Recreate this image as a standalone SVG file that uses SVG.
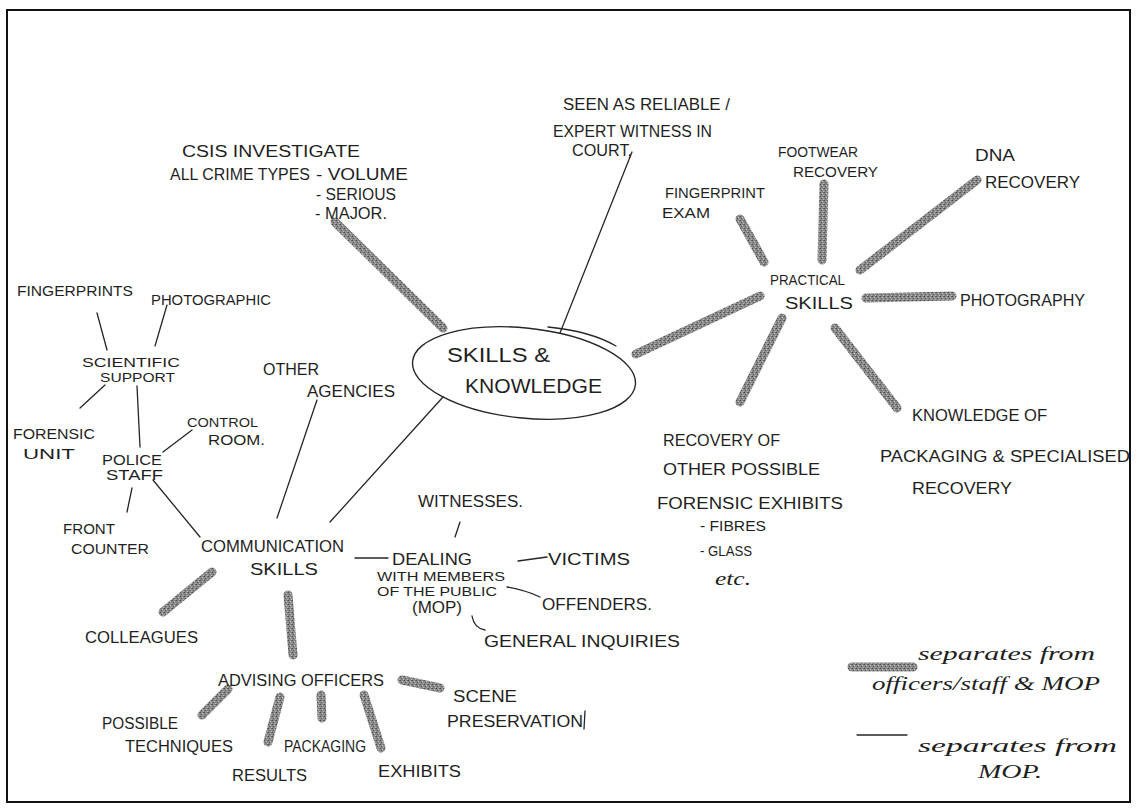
<svg xmlns="http://www.w3.org/2000/svg" width="1137" height="808" viewBox="0 0 1137 808">
<style>
.t{font-family:"Liberation Sans",Arial,sans-serif;font-size:16px;fill:#1f1f1f}
.s{font-size:14px}
.xs{font-size:13px}
.big{font-size:20px}
.cur{font-family:"Liberation Serif","Times New Roman",serif;font-style:italic;font-size:18px;fill:#1f1f1f}
.thin{stroke:#262626;stroke-width:1.3;fill:none;stroke-linecap:round}
.thick{stroke:url(#grain);stroke-width:9;stroke-linecap:round;fill:none}
</style>
<defs>
<pattern id="grain" patternUnits="userSpaceOnUse" width="4" height="4">
<rect width="4" height="4" fill="#8a8a8a"/>
<rect x="0" y="0" width="1" height="1" fill="#4a4a4a"/>
<rect x="2" y="1" width="1" height="1" fill="#c4c4c4"/>
<rect x="1" y="2" width="1" height="1" fill="#5a5a5a"/>
<rect x="3" y="3" width="1" height="1" fill="#b8b8b8"/>
<rect x="3" y="0" width="1" height="1" fill="#6a6a6a"/>
</pattern>
</defs>
<rect x="0" y="0" width="1137" height="808" fill="#ffffff"/>
<rect x="7" y="10" width="1123" height="792" fill="none" stroke="#111" stroke-width="2"/>

<g id="connectors">
<line class="thick" x1="335" y1="222" x2="443" y2="328"/>
<line class="thick" x1="636" y1="354" x2="760" y2="296"/>
<line class="thick" x1="740" y1="219" x2="764" y2="262"/>
<line class="thick" x1="824" y1="184" x2="822" y2="260"/>
<line class="thick" x1="860" y1="270" x2="977" y2="180"/>
<line class="thick" x1="866" y1="298" x2="952" y2="296"/>
<line class="thick" x1="782" y1="318" x2="740" y2="402"/>
<line class="thick" x1="835" y1="328" x2="897" y2="408"/>
<line class="thick" x1="212" y1="572" x2="163" y2="612"/>
<line class="thick" x1="288" y1="595" x2="293" y2="655"/>
<line class="thick" x1="228" y1="689" x2="202" y2="715"/>
<line class="thick" x1="280" y1="697" x2="268" y2="742"/>
<line class="thick" x1="321" y1="695" x2="322" y2="718"/>
<line class="thick" x1="364" y1="695" x2="381" y2="748"/>
<line class="thick" x1="402" y1="680" x2="440" y2="688"/>
<line class="thin" x1="632" y1="152" x2="560" y2="333"/>
<line class="thin" x1="97" y1="313" x2="107" y2="350"/>
<line class="thin" x1="167" y1="305" x2="155" y2="346"/>
<line class="thin" x1="105" y1="385" x2="80" y2="408"/>
<line class="thin" x1="137" y1="386" x2="140" y2="447"/>
<line class="thin" x1="192" y1="430" x2="163" y2="452"/>
<line class="thin" x1="132" y1="488" x2="127" y2="512"/>
<line class="thin" x1="153" y1="480" x2="200" y2="537"/>
<line class="thin" x1="317" y1="400" x2="277" y2="518"/>
<line class="thin" x1="443" y1="397" x2="330" y2="522"/>
<line class="thin" x1="355" y1="558" x2="388" y2="558"/>
<line class="thin" x1="460" y1="522" x2="455" y2="537"/>
<line class="thin" x1="518" y1="561" x2="547" y2="557"/>
<path class="thin" d="M507,587 Q525,590 540,597"/>
<path class="thin" d="M472,616 Q474,628 485,630"/>
</g>

<g id="skills-knowledge">
<ellipse cx="524" cy="373" rx="112" ry="45" transform="rotate(6 524 373)" fill="none" stroke="#262626" stroke-width="1.4"/>
<path class="thin" d="M548,327 Q590,331 616,346"/>
<text class="t big" x="447" y="362" textLength="103" lengthAdjust="spacingAndGlyphs">SKILLS &amp;</text>
<text class="t big" x="465" y="393" textLength="137" lengthAdjust="spacingAndGlyphs">KNOWLEDGE</text>
</g>

<g id="csis">
<text class="t" x="182" y="157" font-size="17" textLength="178" lengthAdjust="spacingAndGlyphs">CSIS  INVESTIGATE</text>
<text class="t" x="170" y="180" textLength="140" lengthAdjust="spacingAndGlyphs">ALL CRIME TYPES</text>
<text class="t" x="316" y="180" textLength="92" lengthAdjust="spacingAndGlyphs">- VOLUME</text>
<text class="t" x="316" y="200" textLength="80" lengthAdjust="spacingAndGlyphs">- SERIOUS</text>
<text class="t" x="315" y="219" textLength="72" lengthAdjust="spacingAndGlyphs">- MAJOR.</text>
</g>

<g id="expert-witness">
<text class="t" x="563" y="110" textLength="167" lengthAdjust="spacingAndGlyphs">SEEN AS RELIABLE /</text>
<text class="t" x="553" y="137" textLength="159" lengthAdjust="spacingAndGlyphs">EXPERT WITNESS IN</text>
<text class="t" x="572" y="156" textLength="60" lengthAdjust="spacingAndGlyphs">COURT,</text>
</g>

<g id="practical-skills">
<text class="t s" x="770" y="285" textLength="75" lengthAdjust="spacingAndGlyphs">PRACTICAL</text>
<text class="t" x="785" y="309" textLength="68" lengthAdjust="spacingAndGlyphs">SKILLS</text>
</g>
<g id="fingerprint-exam">
<text class="t s" x="665" y="198" textLength="100" lengthAdjust="spacingAndGlyphs">FINGERPRINT</text>
<text class="t s" x="662" y="218" textLength="48" lengthAdjust="spacingAndGlyphs">EXAM</text>
</g>
<g id="footwear-recovery">
<text class="t s" x="778" y="157" textLength="80" lengthAdjust="spacingAndGlyphs">FOOTWEAR</text>
<text class="t s" x="793" y="177" textLength="85" lengthAdjust="spacingAndGlyphs">RECOVERY</text>
</g>
<g id="dna-recovery">
<text class="t" x="975" y="161" textLength="40" lengthAdjust="spacingAndGlyphs">DNA</text>
<text class="t" x="985" y="188" textLength="95" lengthAdjust="spacingAndGlyphs">RECOVERY</text>
</g>
<g id="photography">
<text class="t" x="960" y="306" textLength="125" lengthAdjust="spacingAndGlyphs">PHOTOGRAPHY</text>
</g>
<g id="knowledge-packaging">
<text class="t" x="912" y="421" textLength="135" lengthAdjust="spacingAndGlyphs">KNOWLEDGE OF</text>
<text class="t" x="880" y="462" textLength="250" lengthAdjust="spacingAndGlyphs">PACKAGING &amp; SPECIALISED</text>
<text class="t" x="912" y="494" textLength="100" lengthAdjust="spacingAndGlyphs">RECOVERY</text>
</g>
<g id="recovery-other">
<text class="t" x="663" y="446" textLength="117" lengthAdjust="spacingAndGlyphs">RECOVERY OF</text>
<text class="t" x="663" y="475" textLength="157" lengthAdjust="spacingAndGlyphs">OTHER POSSIBLE</text>
<text class="t" x="657" y="509" textLength="186" lengthAdjust="spacingAndGlyphs">FORENSIC EXHIBITS</text>
<text class="t s" x="700" y="531" textLength="66" lengthAdjust="spacingAndGlyphs">- FIBRES</text>
<text class="t s" x="700" y="556" textLength="52" lengthAdjust="spacingAndGlyphs">- GLASS</text>
<text class="cur" x="715" y="585" textLength="36" lengthAdjust="spacingAndGlyphs">etc.</text>
</g>

<g id="fingerprints">
<text class="t s" x="17" y="296" textLength="116" lengthAdjust="spacingAndGlyphs">FINGERPRINTS</text>
</g>
<g id="photographic">
<text class="t s" x="151" y="305" textLength="120" lengthAdjust="spacingAndGlyphs">PHOTOGRAPHIC</text>
</g>
<g id="scientific-support">
<text class="t xs" x="82" y="367" textLength="98" lengthAdjust="spacingAndGlyphs">SCIENTIFIC</text>
<text class="t xs" x="100" y="382" textLength="75" lengthAdjust="spacingAndGlyphs">SUPPORT</text>
</g>
<g id="forensic-unit">
<text class="t s" x="13" y="439" textLength="82" lengthAdjust="spacingAndGlyphs">FORENSIC</text>
<text class="t s" x="23" y="459" textLength="52" lengthAdjust="spacingAndGlyphs">UNIT</text>
</g>
<g id="control-room">
<text class="t xs" x="187" y="427" textLength="71" lengthAdjust="spacingAndGlyphs">CONTROL</text>
<text class="t s" x="208" y="445" textLength="57" lengthAdjust="spacingAndGlyphs">ROOM.</text>
</g>
<g id="police-staff">
<text class="t s" x="102" y="465" textLength="60" lengthAdjust="spacingAndGlyphs">POLICE</text>
<text class="t s" x="106" y="480" textLength="57" lengthAdjust="spacingAndGlyphs">STAFF</text>
</g>
<g id="front-counter">
<text class="t s" x="63" y="534" textLength="52" lengthAdjust="spacingAndGlyphs">FRONT</text>
<text class="t s" x="71" y="554" textLength="78" lengthAdjust="spacingAndGlyphs">COUNTER</text>
</g>
<g id="other-agencies">
<text class="t" x="263" y="375" textLength="56" lengthAdjust="spacingAndGlyphs">OTHER</text>
<text class="t" x="307" y="397" textLength="88" lengthAdjust="spacingAndGlyphs">AGENCIES</text>
</g>
<g id="communication-skills">
<text class="t" x="201" y="552" textLength="143" lengthAdjust="spacingAndGlyphs">COMMUNICATION</text>
<text class="t" x="250" y="575" textLength="68" lengthAdjust="spacingAndGlyphs">SKILLS</text>
</g>
<g id="witnesses">
<text class="t" x="418" y="507" textLength="105" lengthAdjust="spacingAndGlyphs">WITNESSES.</text>
</g>
<g id="dealing-mop">
<text class="t" x="392" y="565" textLength="80" lengthAdjust="spacingAndGlyphs">DEALING</text>
<text class="t xs" x="377" y="581" textLength="128" lengthAdjust="spacingAndGlyphs">WITH MEMBERS</text>
<text class="t xs" x="377" y="596" textLength="120" lengthAdjust="spacingAndGlyphs">OF THE PUBLIC</text>
<text class="t" x="412" y="613" font-size="11" textLength="50" lengthAdjust="spacingAndGlyphs">(MOP)</text>
</g>
<g id="victims">
<text class="t" x="548" y="565" textLength="82" lengthAdjust="spacingAndGlyphs">VICTIMS</text>
</g>
<g id="offenders">
<text class="t" x="542" y="610" textLength="110" lengthAdjust="spacingAndGlyphs">OFFENDERS.</text>
</g>
<g id="general-inquiries">
<text class="t" x="484" y="647" textLength="196" lengthAdjust="spacingAndGlyphs">GENERAL INQUIRIES</text>
</g>
<g id="colleagues">
<text class="t" x="85" y="643" textLength="113" lengthAdjust="spacingAndGlyphs">COLLEAGUES</text>
</g>
<g id="advising-officers">
<text class="t" x="218" y="686" textLength="166" lengthAdjust="spacingAndGlyphs">ADVISING OFFICERS</text>
</g>
<g id="scene-preservation">
<text class="t" x="453" y="702" textLength="64" lengthAdjust="spacingAndGlyphs">SCENE</text>
<text class="t" x="447" y="727" textLength="136" lengthAdjust="spacingAndGlyphs">PRESERVATION</text>
<line class="thin" x1="585" y1="711" x2="584" y2="729"/>
</g>
<g id="possible-techniques">
<text class="t" x="102" y="729" textLength="76" lengthAdjust="spacingAndGlyphs">POSSIBLE</text>
<text class="t" x="125" y="752" textLength="108" lengthAdjust="spacingAndGlyphs">TECHNIQUES</text>
</g>
<g id="results">
<text class="t" x="232" y="781" textLength="75" lengthAdjust="spacingAndGlyphs">RESULTS</text>
</g>
<g id="packaging">
<text class="t" x="284" y="752" textLength="82" lengthAdjust="spacingAndGlyphs">PACKAGING</text>
</g>
<g id="exhibits">
<text class="t" x="378" y="777" textLength="83" lengthAdjust="spacingAndGlyphs">EXHIBITS</text>
</g>

<g id="legend">
<line class="thick" x1="852" y1="667" x2="913" y2="667"/>
<text class="cur" x="918" y="660" textLength="177" lengthAdjust="spacingAndGlyphs">separates from</text>
<text class="cur" x="872" y="690" textLength="228" lengthAdjust="spacingAndGlyphs">officers/staff &amp; MOP</text>
<line class="thin" x1="857" y1="735" x2="907" y2="735" stroke-width="1.8"/>
<text class="cur" x="918" y="752" textLength="199" lengthAdjust="spacingAndGlyphs">separates from</text>
<text class="cur" x="978" y="778" textLength="64" lengthAdjust="spacingAndGlyphs">MOP.</text>
</g>
</svg>
